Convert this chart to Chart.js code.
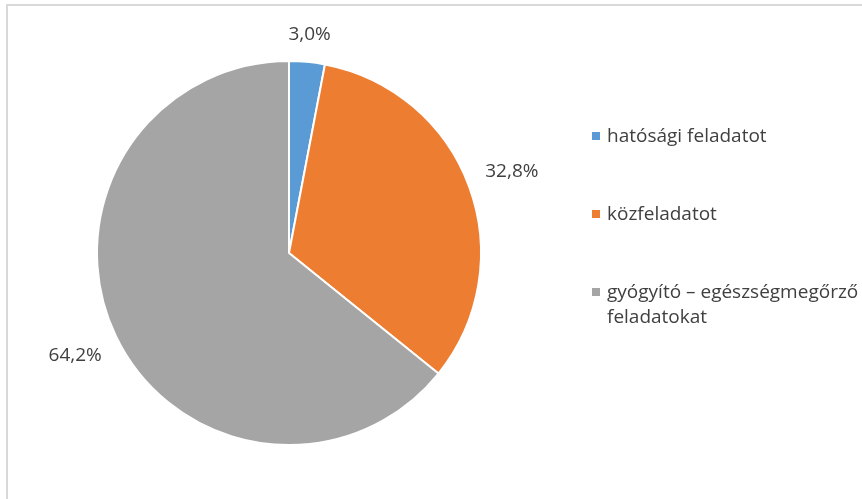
<!DOCTYPE html>
<html lang="hu">
<head>
<meta charset="utf-8">
<title>Feladatok megoszlása</title>
<script src="https://cdn.jsdelivr.net/npm/chart.js@4.4.0/dist/chart.umd.min.js"></script>
<style>
  html, body {
    margin: 0;
    padding: 0;
    background: #ffffff;
    overflow: hidden;
  }
  #wrap {
    position: relative;
    width: 862px;
    height: 499px;
    font-family: "Open Sans", "Noto Sans", sans-serif;
    color: #404040;
  }
  #frame {
    position: absolute;
    left: 6px;
    top: 4px;
    width: 1000px;
    height: 1000px;
    border: 2px solid #d9d9d9;
  }
  #chartBox {
    position: absolute;
    left: 0;
    top: 0;
    width: 862px;
    height: 499px;
  }
  #legend {
    position: absolute;
    left: 591px;
    top: 123px;
    width: 275px;
    margin: 0;
    padding: 0;
    list-style: none;
    font-size: 19px;
    line-height: 25px;
  }
  #legend li {
    position: relative;
    padding-left: 16px;
    margin-bottom: 53px;
  }
  #legend .box {
    position: absolute;
    left: 1px;
    top: 9px;
    width: 8px;
    height: 8px;
  }
</style>
</head>
<body>
<div id="wrap">
  <div id="frame"></div>
  <div id="chartBox"><canvas id="pie"></canvas></div>
  <ul id="legend"></ul>
</div>
<script>
// task categories and their share in percent
const categories = ["hatósági feladatot", "közfeladatot", "gyógyító – egészségmegőrző feladatokat"];
const shares = [3.0, 32.8, 64.2];
const sliceColors = ["#5B9BD5", "#ED7D31", "#A5A5A5"];

const fontFamily = '"Open Sans", "Noto Sans", sans-serif';

// percentage labels outside each slice
const outsideLabels = {
  id: "outsideLabels",
  afterDatasetsDraw(chart) {
    const ctx = chart.ctx;
    const meta = chart.getDatasetMeta(0);
    ctx.save();
    ctx.font = "19px " + fontFamily;
    ctx.fillStyle = "#404040";
    ctx.textAlign = "center";
    ctx.textBaseline = "middle";
    meta.data.forEach((arc, i) => {
      const p = arc.getProps(["x", "y", "startAngle", "endAngle", "outerRadius"], true);
      const mid = (p.startAngle + p.endAngle) / 2;
      const dx = Math.cos(mid);
      const dy = Math.sin(mid);
      const text = shares[i].toFixed(1).replace(".", ",") + "%";
      const halfW = ctx.measureText(text).width / 2;
      const halfH = 7;
      const dist = p.outerRadius + 18 + Math.abs(dx) * halfW + Math.abs(dy) * halfH;
      ctx.fillText(text, p.x + dx * dist, p.y + dy * dist);
    });
    ctx.restore();
  }
};

new Chart(document.getElementById("pie"), {
  type: "pie",
  data: {
    labels: categories,
    datasets: [{
      data: shares,
      backgroundColor: sliceColors,
      borderColor: "#ffffff",
      borderWidth: 2
    }]
  },
  options: {
    responsive: true,
    maintainAspectRatio: false,
    animation: false,
    layout: {
      padding: { left: 96, right: 380, top: 60, bottom: 53 }
    },
    plugins: {
      legend: { display: false },
      tooltip: { enabled: false }
    }
  },
  plugins: [outsideLabels]
});

// legend on the right
const legend = document.getElementById("legend");
categories.forEach((name, i) => {
  const li = document.createElement("li");
  const box = document.createElement("span");
  box.className = "box";
  box.style.background = sliceColors[i];
  li.appendChild(box);
  li.appendChild(document.createTextNode(name));
  legend.appendChild(li);
});
</script>
</body>
</html>
